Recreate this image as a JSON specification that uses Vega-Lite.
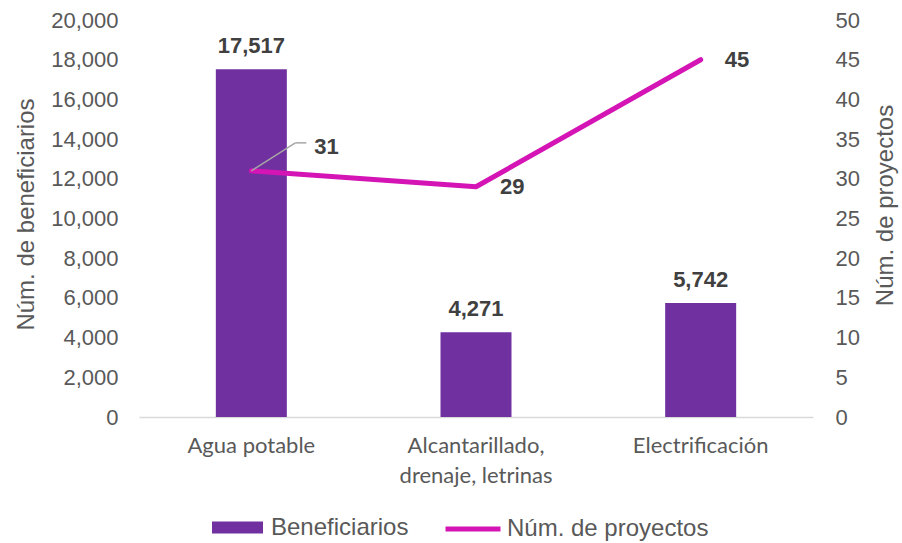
{
  "$schema": "https://vega.github.io/schema/vega-lite/v6.json",
  "width": 674,
  "height": 397,
  "autosize": {"type": "none"},
  "padding": {"left": 139, "top": 20, "right": 89, "bottom": 126},
  "background": "white",
  "config": {
    "view": {"stroke": null},
    "font": "Liberation Sans",
    "axis": {"grid": false, "ticks": false, "labelColor": "#595959", "titleColor": "#595959", "titleFontWeight": "normal", "labelFont": "Liberation Sans", "titleFont": "Liberation Sans", "labelOverlap": false},
    "legend": {"labelFont": "Liberation Sans", "labelFontSize": 24, "labelColor": "#595959", "labelLimit": 400}
  },
  "data": {
    "values": [
      {"categoria": "Agua potable", "beneficiarios": 17517, "proyectos": 31},
      {"categoria": "Alcantarillado, drenaje, letrinas", "beneficiarios": 4271, "proyectos": 29},
      {"categoria": "Electrificación", "beneficiarios": 5742, "proyectos": 45}
    ]
  },
  "encoding": {
    "x": {
      "field": "categoria", "type": "nominal", "sort": null,
      "scale": {"paddingInner": 0.684, "paddingOuter": 0.342},
      "axis": {
        "title": null, "labelAngle": 0, "labelFont": "Lato", "labelFontSize": 22, "labelPadding": 18,
        "labelColor": "#595959", "domainColor": "#D9D9D9", "domainWidth": 1.3, "labelLineHeight": 30,
        "labelExpr": "datum.label == 'Alcantarillado, drenaje, letrinas' ? ['Alcantarillado,', 'drenaje, letrinas'] : datum.label"
      }
    }
  },
  "layer": [
    {
      "encoding": {
        "y": {
          "field": "beneficiarios", "type": "quantitative",
          "scale": {"domain": [0, 20000], "nice": false},
          "axis": {"title": "Núm. de beneficiarios", "titleFontSize": 24, "titleY": 194, "labelFontSize": 22, "values": [0,2000,4000,6000,8000,10000,12000,14000,16000,18000,20000], "format": ",d", "domain": false, "labelPadding": 21, "titlePadding": 12}
        }
      },
      "layer": [
        {
          "mark": {"type": "bar", "color": "#7030A0"},
          "encoding": {
            "fill": {"datum": "Beneficiarios", "type": "nominal", "scale": {"range": ["#7030A0"]},
              "legend": {"title": null, "orient": "none", "legendX": 73, "legendY": 482, "symbolType": "M-1,-0.235H1V0.235H-1Z", "symbolSize": 2601, "symbolStrokeWidth": 0, "labelOffset": 8}}
          }
        },
        {
          "mark": {"type": "text", "fontWeight": "bold", "fontSize": 22, "color": "#404040", "baseline": "alphabetic", "dy": -16},
          "encoding": {"text": {"field": "beneficiarios", "type": "quantitative", "format": ",d"}}
        }
      ]
    },
    {
      "encoding": {
        "y": {
          "field": "proyectos", "type": "quantitative",
          "scale": {"domain": [0, 50], "nice": false},
          "axis": {"orient": "right", "title": "Núm. de proyectos", "titleAngle": 270, "titleBaseline": "top", "titleY": 185, "titleFontSize": 24, "labelFontSize": 22, "values": [0,5,10,15,20,25,30,35,40,45,50], "domain": false, "labelPadding": 22, "titlePadding": 14}
        }
      },
      "layer": [
        {
          "mark": {"type": "line", "strokeWidth": 5, "strokeCap": "round", "strokeJoin": "round"},
          "encoding": {
            "stroke": {"datum": "Núm. de proyectos", "type": "nominal", "scale": {"range": ["#D414B4"]},
              "legend": {"title": null, "orient": "none", "legendX": 304, "legendY": 479, "symbolType": "stroke", "symbolSize": 3025, "symbolStrokeWidth": 5, "labelOffset": 4}}
          }
        },
        {
          "transform": [{"filter": "datum.categoria != 'Agua potable'"}],
          "mark": {"type": "text", "fontWeight": "bold", "fontSize": 22, "color": "#404040", "align": "left", "baseline": "middle", "dx": 24},
          "encoding": {"text": {"field": "proyectos", "type": "quantitative"}}
        },
        {
          "transform": [{"filter": "datum.categoria == 'Agua potable'"}],
          "mark": {"type": "text", "fontWeight": "bold", "fontSize": 22, "color": "#404040", "align": "left", "baseline": "middle", "dx": 63, "dy": -24},
          "encoding": {"text": {"field": "proyectos", "type": "quantitative"}}
        },
        {
          "transform": [{"filter": "datum.categoria == 'Agua potable'"}],
          "mark": {"type": "rule", "color": "#A6A6A6", "strokeWidth": 1.5, "x2Offset": 44, "y2Offset": -28},
          "encoding": {"x2": {"field": "categoria"}, "y2": {"field": "proyectos"}}
        },
        {
          "transform": [{"filter": "datum.categoria == 'Agua potable'"}],
          "mark": {"type": "rule", "color": "#A6A6A6", "strokeWidth": 1.5, "xOffset": 44, "x2Offset": 55, "yOffset": -28, "y2Offset": -28},
          "encoding": {"x2": {"field": "categoria"}, "y2": {"field": "proyectos"}}
        }
      ]
    }
  ],
  "resolve": {"scale": {"y": "independent", "fill": "independent", "stroke": "independent"}}
}
